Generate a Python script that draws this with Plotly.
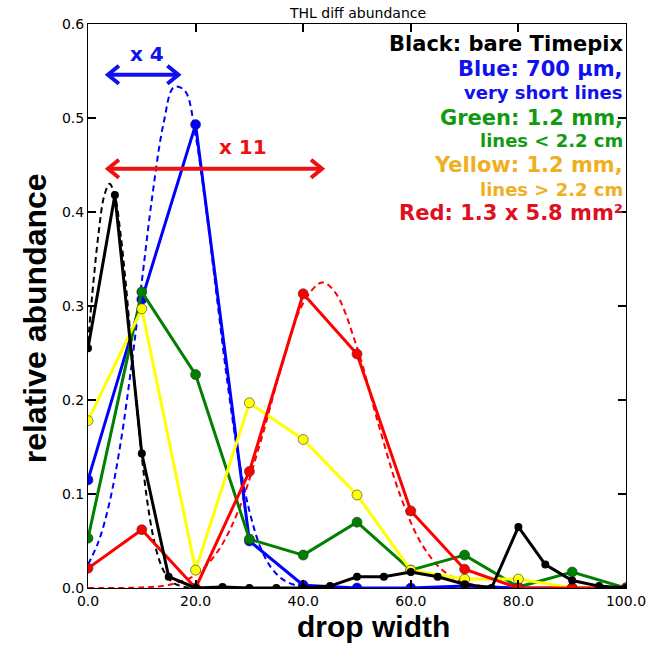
import plotly.graph_objects as go

# ---------------- data ----------------
black_x = [0, 5, 10, 15, 20, 25, 30, 35, 40, 45, 50, 55, 60, 65, 70, 75, 80, 85, 90, 95, 100]
black_y = [0.255, 0.418, 0.143, 0.012, 0.0, 0.001, 0.0, 0.0, 0.0, 0.002, 0.012, 0.012,
           0.017, 0.012, 0.004, 0.0, 0.065, 0.025, 0.008, 0.002, 0.0]

ten_x = [0, 10, 20, 30, 40, 50, 60, 70, 80, 90, 100]
blue_y = [0.115, 0.307, 0.493, 0.050, 0.003, 0.0, 0.0, 0.002, 0.0, 0.0, 0.0]
green_y = [0.053, 0.315, 0.227, 0.052, 0.035, 0.070, 0.019, 0.035, 0.001, 0.017, 0.0]
yellow_y = [0.178, 0.297, 0.019, 0.197, 0.158, 0.099, 0.019, 0.0095, 0.0095, 0.0, 0.0]
red_y = [0.021, 0.062, 0.0, 0.124, 0.313, 0.249, 0.082, 0.020, 0.0, 0.0, 0.0]

# dashed fit curves
black_fit_x = [0, 1, 2, 3, 4, 5, 6, 7, 8, 9, 10, 11, 12, 13, 14, 15, 16, 18, 20, 30]
black_fit_y = [0.261, 0.325, 0.379, 0.417, 0.430, 0.417, 0.379, 0.325, 0.261, 0.197,
               0.140, 0.093, 0.058, 0.034, 0.019, 0.010, 0.005, 0.001, 0.0, 0.0]
blue_fit_x = [0, 2, 4, 6, 8, 10, 12, 14, 16, 18, 20, 22, 24, 26, 28, 30, 32, 34, 36, 38, 40, 42, 45]
blue_fit_y = [0.025, 0.050, 0.091, 0.152, 0.233, 0.326, 0.419, 0.493, 0.533, 0.529, 0.481,
              0.401, 0.307, 0.215, 0.138, 0.082, 0.044, 0.022, 0.010, 0.004, 0.0016, 0.0005, 0.0]
red_fit_x = [0, 10, 15, 20, 24, 28, 32, 36, 40, 43.5, 46, 50, 54, 58, 62, 66, 70, 75, 80, 95]
red_fit_y = [0.0, 0.0006, 0.0033, 0.014, 0.038, 0.083, 0.154, 0.236, 0.303, 0.325, 0.314,
             0.256, 0.174, 0.099, 0.047, 0.0185, 0.006, 0.0012, 0.0002, 0.0]

x_ticks = [0, 20, 40, 60, 80, 100]
x_tick_text = ["0.0", "20.0", "40.0", "60.0", "80.0", "100.0"]
y_ticks = [0.0, 0.1, 0.2, 0.3, 0.4, 0.5, 0.6]
y_tick_text = ["0.0", "0.1", "0.2", "0.3", "0.4", "0.5", "0.6"]

legend_lines = [
    ("Black: bare Timepix", "#000000", 21),
    ("Blue: 700 µm,", "#1010f0", 21),
    ("very short lines", "#1010f0", 18),
    ("Green: 1.2 mm,", "#139a13", 21),
    ("lines &lt; 2.2 cm", "#139a13", 18),
    ("Yellow: 1.2 mm,", "#eeb022", 21),
    ("lines &gt; 2.2 cm", "#eeb022", 18),
    ("Red: 1.3 x 5.8 mm²", "#dd1122", 21),
]
legend_y = [0.9645, 0.920, 0.8777, 0.8333, 0.7926, 0.75, 0.7074, 0.6649]

# arrows: (x start, x end, y, label, label x, label y, colour)
arrows = [
    (3.7, 16.8, 0.546, "x 4", 11.0, 0.568, "#1010f0"),
    (3.7, 43.5, 0.446, "x 11", 28.9, 0.469, "#ee1111"),
]

# ---------------- figure ----------------
fig = go.Figure()

dash = "6px,4px"
fig.add_trace(go.Scatter(x=black_fit_x, y=black_fit_y, mode="lines", line_shape="spline",
                         line=dict(color="black", width=2, dash=dash)))
fig.add_trace(go.Scatter(x=blue_fit_x, y=blue_fit_y, mode="lines", line_shape="spline",
                         line=dict(color="#0000ff", width=2, dash=dash)))
fig.add_trace(go.Scatter(x=red_fit_x, y=red_fit_y, mode="lines", line_shape="spline",
                         line=dict(color="#ff0000", width=2, dash=dash)))

edge = dict(color="#333333", width=0.6)
fig.add_trace(go.Scatter(x=ten_x, y=blue_y, mode="lines+markers",
                         line=dict(color="#0000ff", width=3),
                         marker=dict(color="#0000ff", size=10, line=edge)))
fig.add_trace(go.Scatter(x=ten_x, y=green_y, mode="lines+markers",
                         line=dict(color="#008000", width=3),
                         marker=dict(color="#008000", size=10, line=edge)))
fig.add_trace(go.Scatter(x=ten_x, y=yellow_y, mode="lines+markers",
                         line=dict(color="#ffff00", width=3),
                         marker=dict(color="#ffff00", size=10, line=edge)))
fig.add_trace(go.Scatter(x=ten_x, y=red_y, mode="lines+markers",
                         line=dict(color="#ff0000", width=3),
                         marker=dict(color="#ff0000", size=10, line=edge)))
fig.add_trace(go.Scatter(x=black_x, y=black_y, mode="lines+markers",
                         line=dict(color="black", width=3),
                         marker=dict(color="black", size=8)))

shapes = []
annotations = []
for x0, x1, y, label, lx, ly, col in arrows:
    shapes.append(dict(type="line", xref="x", yref="y", x0=x0, x1=x1, y0=y, y1=y,
                       line=dict(color=col, width=4)))
    shapes.append(dict(type="path", xref="x", yref="y", xsizemode="pixel", ysizemode="pixel",
                       xanchor=x0, yanchor=y, path="M 11,9 L 0,0 L 11,-9",
                       line=dict(color=col, width=4)))
    shapes.append(dict(type="path", xref="x", yref="y", xsizemode="pixel", ysizemode="pixel",
                       xanchor=x1, yanchor=y, path="M -11,9 L 0,0 L -11,-9",
                       line=dict(color=col, width=4)))
    annotations.append(dict(x=lx, y=ly, xref="x", yref="y", text="<b>" + label + "</b>",
                            showarrow=False, font=dict(family="DejaVu Sans", size=20, color=col)))

for (txt, col, size), yy in zip(legend_lines, legend_y):
    annotations.append(dict(x=0.998, y=yy, xref="paper", yref="paper", xanchor="right",
                            yanchor="middle", text="<b>" + txt + "</b>", showarrow=False,
                            font=dict(family="DejaVu Sans", size=size, color=col)))

annotations.append(dict(x=0.5, y=1.0, xref="paper", yref="paper", yanchor="bottom", yshift=1,
                        text="THL diff abundance", showarrow=False,
                        font=dict(family="DejaVu Sans", size=14, color="black")))
annotations.append(dict(x=0.530, y=-0.0691, xref="paper", yref="paper", yanchor="middle",
                        borderpad=0, text="<b>drop width</b>", showarrow=False,
                        font=dict(family="Liberation Sans", size=30, color="black")))
annotations.append(dict(x=-0.0969, y=0.478, xref="paper", yref="paper", xanchor="center",
                        yanchor="middle", textangle=-90,
                        text="<b>relative abundance</b>", showarrow=False,
                        font=dict(family="Liberation Sans", size=32, color="black")))

axis_common = dict(showline=True, linecolor="black", linewidth=1, mirror="ticks",
                   ticks="inside", ticklen=8, tickwidth=2, tickcolor="black",
                   showgrid=False, zeroline=False,
                   tickfont=dict(family="DejaVu Sans", size=14, color="black"))

fig.update_layout(
    width=658, height=646,
    margin=dict(l=88, r=23, t=24, b=58),
    paper_bgcolor="white", plot_bgcolor="white",
    showlegend=False,
    xaxis=dict(range=[0, 100], tickvals=x_ticks, ticktext=x_tick_text, **axis_common),
    yaxis=dict(range=[0, 0.6], tickvals=y_ticks, ticktext=y_tick_text, **axis_common),
    shapes=shapes,
    annotations=annotations,
)

fig.write_html("out.html")
